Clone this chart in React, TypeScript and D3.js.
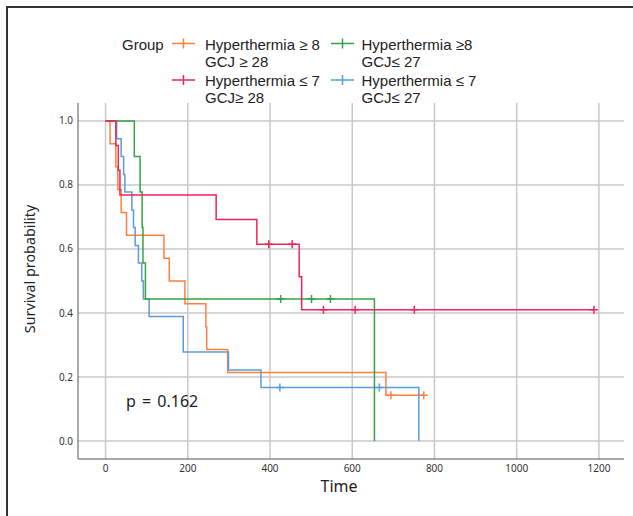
import React from "react";
import * as d3 from "d3";

// legend labels (two lines each) and colours, in legend order
const groupLabels = [
  ["Hyperthermia ≥ 8", "GCJ ≥ 28"],
  ["Hyperthermia ≤ 7", "GCJ≥ 28"],
  ["Hyperthermia ≥8", "GCJ≤ 27"],
  ["Hyperthermia ≤ 7", "GCJ≤ 27"],
];
const groupColors = ["#ff7f3f", "#f0245a", "#34a344", "#5b9bd8"];

// Kaplan-Meier steps
const orangeTimes = [0, 11, 25, 30, 38, 51, 142, 155, 193, 244, 246, 297, 682, 774];
const orangeSurv = [1, 0.929, 0.857, 0.786, 0.714, 0.643, 0.571, 0.5, 0.429, 0.357, 0.286, 0.214, 0.143, 0.143];
const orangeCensor = [694, 774];

const redTimes = [0, 25, 31, 35, 269, 368, 471, 477, 1188];
const redSurv = [1, 0.923, 0.846, 0.769, 0.692, 0.615, 0.513, 0.41, 0.41];
const redCensor = [397, 454, 530, 607, 751, 1188];

const greenTimes = [0, 70, 84, 89, 91, 97, 654];
const greenSurv = [1, 0.889, 0.778, 0.667, 0.556, 0.444, 0];
const greenCensor = [426, 501, 547];

const blueTimes = [0, 27, 38, 44, 47, 64, 68, 72, 80, 88, 92, 106, 189, 299, 378, 762];
const blueSurv = [1, 0.944, 0.889, 0.833, 0.778, 0.722, 0.667, 0.611, 0.556, 0.5, 0.444, 0.389, 0.278, 0.222, 0.167, 0];
const blueCensor = [424, 666];

const xTicks = [0, 200, 400, 600, 800, 1000, 1200];
const yTicks = [0, 0.2, 0.4, 0.6, 0.8, 1.0];
const pValueText = "p = 0.162";

const font = "'Noto Sans', 'Open Sans', sans-serif";
const legendFont = "'Liberation Sans', Arial, sans-serif";

const x = d3.scaleLinear().domain([-67, 1261]).range([78, 624]);
const y = d3.scaleLinear().domain([-0.056, 1.056]).range([459, 103]);

const stepLine = d3
  .line<[number, number]>()
  .x((d) => x(d[0]))
  .y((d) => y(d[1]))
  .curve(d3.curveStepAfter);

const survAt = (times: number[], surv: number[], t: number) => {
  let v = surv[0];
  times.forEach((tt, i) => {
    if (tt <= t) v = surv[i];
  });
  return v;
};

const curves = [
  { times: orangeTimes, surv: orangeSurv, censor: orangeCensor, color: groupColors[0] },
  { times: blueTimes, surv: blueSurv, censor: blueCensor, color: groupColors[3] },
  { times: greenTimes, surv: greenSurv, censor: greenCensor, color: groupColors[2] },
  { times: redTimes, surv: redSurv, censor: redCensor, color: groupColors[1] },
];

const legendPos = [
  { mx: 183.5, tx: 205, my: 43.5, ty: 49.5 },
  { mx: 183.5, tx: 205, my: 80, ty: 86 },
  { mx: 342.5, tx: 361.5, my: 43.5, ty: 49.5 },
  { mx: 342.5, tx: 361.5, my: 80, ty: 86 },
];

export default function App() {
  const [x0, x1] = x.range();
  const [y0, y1] = y.range();
  return (
    <svg
      width={633}
      height={516}
      style={{ position: "absolute", left: 0, top: 0, background: "#fff" }}
    >
      {/* frame */}
      <path d="M7,516 V7 H633" fill="none" stroke="#333" strokeWidth={2} />

      {/* grid */}
      {xTicks.map((t) => (
        <line key={"gx" + t} x1={x(t)} x2={x(t)} y1={y1} y2={y0} stroke="#c8c8c8" strokeWidth={1.5} />
      ))}
      {yTicks.map((t) => (
        <line key={"gy" + t} x1={x0} x2={x1} y1={y(t)} y2={y(t)} stroke="#c8c8c8" strokeWidth={1.5} />
      ))}

      {/* axes */}
      <line x1={x0} x2={x0} y1={y1} y2={y0} stroke="#555" strokeWidth={1} />
      <line x1={x0} x2={x1} y1={y0} y2={y0} stroke="#555" strokeWidth={1} />

      {yTicks.map((t) => (
        <text key={"ty" + t} x={73} y={y(t) + 3.5} textAnchor="end" fontFamily={font} fontSize={10} fill="#333">
          {t.toFixed(1)}
        </text>
      ))}
      {xTicks.map((t) => (
        <text key={"tx" + t} x={x(t)} y={471.5} textAnchor="middle" fontFamily={font} fontSize={10} fill="#333">
          {t}
        </text>
      ))}

      <text x={339} y={492} textAnchor="middle" fontFamily={font} fontSize={16} fill="#222">
        Time
      </text>
      <text
        transform="translate(35,269) rotate(-90)"
        textAnchor="middle"
        fontFamily={font}
        fontSize={14.3}
        fill="#222"
      >
        Survival probability
      </text>

      {/* curves */}
      {curves.map((c, i) => (
        <g key={"c" + i}>
          <path
            d={stepLine(c.times.map((t, j) => [t, c.surv[j]] as [number, number])) || ""}
            fill="none"
            stroke={c.color}
            strokeWidth={1.5}
          />
          {c.censor.map((t) => {
            const cx = x(t);
            const cy = y(survAt(c.times, c.surv, t));
            return (
              <path
                key={"cs" + t}
                d={`M${cx - 4},${cy} H${cx + 4} M${cx},${cy - 4} V${cy + 4}`}
                stroke={c.color}
                strokeWidth={1.5}
              />
            );
          })}
        </g>
      ))}

      <text x={126} y={407} fontFamily={font} fontSize={16} wordSpacing={2} fill="#222">
        {pValueText}
      </text>

      {/* legend */}
      <text x={122} y={49.5} fontFamily={legendFont} fontSize={15} fill="#222">
        Group
      </text>
      {groupLabels.map((lab, i) => {
        const p = legendPos[i];
        return (
          <g key={"lg" + i}>
            <path
              d={`M${p.mx - 11.5},${p.my} H${p.mx + 11.5} M${p.mx},${p.my - 5} V${p.my + 5}`}
              stroke={groupColors[i]}
              strokeWidth={1.5}
            />
            <text x={p.tx} y={p.ty} fontFamily={legendFont} fontSize={15} fill="#222">
              <tspan x={p.tx}>{lab[0]}</tspan>
              <tspan x={p.tx} dy={17}>
                {lab[1]}
              </tspan>
            </text>
          </g>
        );
      })}
    </svg>
  );
}
